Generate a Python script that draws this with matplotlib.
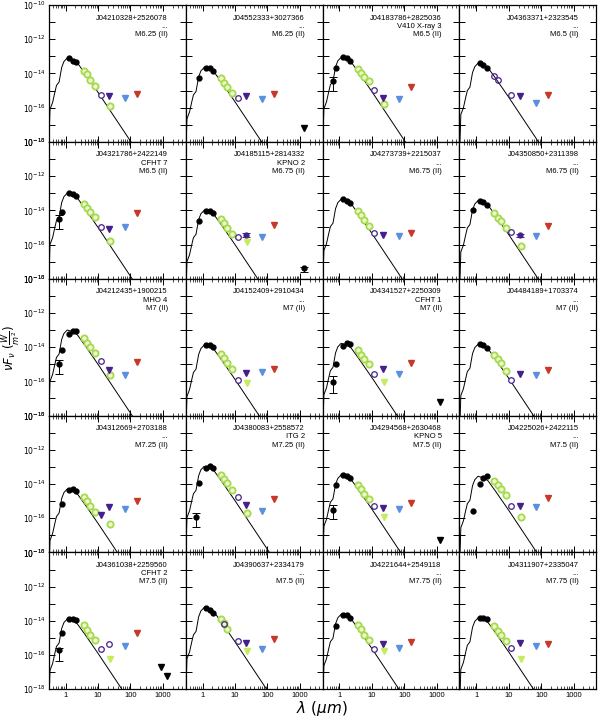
import matplotlib
matplotlib.use("Agg")
import matplotlib.pyplot as plt
import numpy as np
from matplotlib.ticker import FixedLocator, FuncFormatter, LogLocator, NullFormatter, NullLocator

plt.rcParams.update({"font.family": "Liberation Sans", "font.size": 6})

NAMES = ["J04210328+2526078", "J04552333+3027366", "J04183786+2825036", "J04363371+2323545",
         "J04321786+2422149", "J04185115+2814332", "J04273739+2215037", "J04350850+2311398",
         "J04212435+1900215", "J04152409+2910434", "J04341527+2250309", "J04484189+1703374",
         "J04312669+2703188", "J04380083+2558572", "J04294568+2630468", "J04225026+2422115",
         "J04361038+2259560", "J04390637+2334179", "J04221644+2549118", "J04311907+2335047"]
ALIASES = ["...", "...", "V410 X-ray 3", "...",
           "CFHT 7", "KPNO 2", "...", "...",
           "MHO 4", "...", "CFHT 1", "...",
           "...", "ITG 2", "KPNO 5", "...",
           "CFHT 2", "...", "...", "..."]
SPTYPES = ["M6.25 (II)", "M6.25 (II)", "M6.5 (II)", "M6.5 (II)",
           "M6.5 (II)", "M6.75 (II)", "M6.75 (II)", "M6.75 (II)",
           "M7 (II)", "M7 (II)", "M7 (II)", "M7 (II)",
           "M7.25 (II)", "M7.25 (II)", "M7.5 (II)", "M7.5 (II)",
           "M7.5 (II)", "M7.5 (II)", "M7.75 (II)", "M7.75 (II)"]

# band wavelengths (micron)
W_R, W_I = 0.62, 0.76
W_NIR = [1.25, 1.65, 2.17]
W_IRAC = [3.6, 4.5, 5.8, 8.0]
W_W3, W_W4, W_M24, W_P70, W_P160 = 12.0, 22.0, 24.0, 70.0, 160.0

# photosphere template: log10(lambda) and dex relative to the peak
TPL_LOGW = [-0.53, -0.50, -0.48, -0.40, -0.33, -0.28, -0.20, -0.12, -0.05, 0.05,
            0.15, 0.25, 0.36, 0.60, 1.00, 2.00, 3.00, 3.80]
TPL_DEX = [-6.0, -4.2, -3.0, -2.6, -2.0, -1.6, -1.4, -0.55, -0.2, 0.0,
           -0.05, -0.12, -0.27, -0.9, -2.0, -4.85, -7.7, -10.0]
PEAK = [-13.10, -13.65, -13.06, -13.40, -13.00, -14.00, -13.35, -13.43, -13.00, -13.88,
        -13.78, -13.83, -14.30, -12.97, -13.47, -13.55, -13.90, -13.22, -13.62, -13.83]

# log10(nu F_nu [W/m^2]) per panel
NIR = [[-13.12, -13.26, -13.35], [-13.67, -13.70, -13.84], [-13.06, -13.08, -13.26], [-13.41, -13.50, -13.68],
       [-13.01, -13.05, -13.17], [-14.03, -14.05, -14.14], [-13.36, -13.43, -13.60], [-13.44, -13.52, -13.68],
       [-13.24, -13.03, -13.07], [-13.88, -13.90, -14.00], [-13.92, -13.77, -13.80], [-13.84, -13.90, -14.04],
       [-14.34, -14.32, -14.42], [-13.07, -12.97, -13.07], [-13.47, -13.51, -13.66], [-13.99, -13.64, -13.54],
       [-13.92, -13.90, -13.96], [-13.24, -13.38, -13.54], [-13.63, -13.65, -13.81], [-13.83, -13.85, -13.92]]
IBAND = [None, -14.29, -13.67, None, -14.09, -14.63, None, -13.97, -14.18, None,
         -15.01, None, -15.16, -13.93, -14.05, -15.55, -14.74, None, -14.30, None]
# (value, lower, upper)
RBAND = [None, None, (-14.44, -15.01, -14.23), None, (-14.53, -15.10, -14.28), None, None, None,
         (-15.01, -15.57, -14.76), None, (-16.03, -16.66, -15.70), None, None, (-15.94, -16.53, -15.71),
         (-15.51, -16.07, -15.25), None, (-15.72, -16.36, -15.56), None, None, None]
IRAC = [[-13.84, -14.04, -14.39, -14.74], [-14.29, -14.54, -14.81, -15.13], [-13.74, -13.96, -14.19, -14.45], None,
        [-13.64, -13.85, -14.10, -14.40], [-14.53, -14.77, -15.06, -15.41], [-14.03, -14.28, -14.57, -14.92],
        [-14.16, -14.42, -14.65, -15.04], [-13.45, -13.75, -13.98, -14.37], [-14.41, -14.63, -14.90, -15.25],
        [-14.18, -14.43, -14.70, -15.01], [-14.43, -14.70, -14.95, -15.38], [-14.77, -15.02, -15.30, -15.65],
        [-13.47, -13.70, -13.94, -14.38], [-14.05, -14.29, -14.58, -14.90], [-13.85, -14.05, -14.29, -14.67],
        [-14.26, -14.52, -14.80, -15.13], [-13.92, -14.15, -14.50, None], [-14.22, -14.49, -14.80, -15.10],
        [-14.32, -14.59, -14.85, -15.19]]
WISE_SHORT = [[], [], [], [(3.4, -14.15), (4.6, -14.41)], [], [], [], [], [], [], [], [], [], [], [], [], [],
              [(4.6, -14.20)], [], []]
W3 = [-15.26, -15.46, -14.97, -15.26, -14.96, -15.55, -15.35, -15.29, -14.82, -15.93,
      -15.56, -15.93, None, -14.77, -15.30, -15.26, -15.62, -15.19, -15.62, -15.56]
W3_LIM = [None] * 12 + [-15.84] + [None] * 7
W4_LIM = [-15.30, -15.34, -15.42, -15.30, -15.10, None, -15.45, None, -15.35, -15.54,
          -15.25, -15.58, -15.32, -15.22, -15.40, -15.30, None, -15.27, -15.33, -15.27]
W4_ERR = [None] * 5 + [(-15.45, 0.12)] + [None] + [(-15.47, 0.10)] + [None] * 12
W4_OPEN = [None] * 16 + [-15.33] + [None] * 3
M24 = [-15.90, None, -15.81, None, -15.80, None, None, -16.11, -15.60, None,
       None, None, -16.33, -15.71, None, -15.91, None, None, None, None]
M24_LIM = [None, None, None, None, None, -15.88, None, None, None, -16.07,
           -16.03, None, None, None, -15.94, None, -16.26, -15.76, -15.78, -16.26]
P70_LIM = [-15.44, -15.52, -15.52, -15.71, -14.96, -15.55, -15.51, -15.49, -15.64, -15.48,
           -15.58, -15.60, -15.46, -15.59, -15.46, -15.36, -15.49, -15.62, -15.58, -15.49]
P160_LIM = [-15.22, -15.20, -14.81, -15.26, -14.18, -14.87, -15.31, -14.94, -14.86, -15.25,
            -14.92, -15.35, -14.97, -14.87, -15.11, -14.81, -14.74, -15.04, -15.23, -15.33]
MM_LIM = [[], [(1300, -17.21)], [], [], [], [], [], [], [], [], [(1300, -17.23)], [], [], [], [(1300, -17.26)], [],
          [(850, -16.70), (1300, -17.22)], [], [], []]
MM_DET = [None] * 5 + [(1300, -17.40, -17.60, -17.30)] + [None] * 14

GREEN_EDGE, GREEN_FACE = "#a6d94e", "#eaf8cc"
PURPLE, BLUE, RED = "#45208a", "#5b8fe0", "#c8382a"


def p(v):
    return 10.0 ** np.asarray(v, dtype=float)


def draw_panel(ax, i):
    ax.plot(p(TPL_LOGW), p(np.array(TPL_DEX) + PEAK[i]), color="k", lw=0.7, zorder=2)
    if RBAND[i] is not None:
        v, lo, hi = RBAND[i]
        ax.errorbar([W_R], p([v]), yerr=[[p(v) - p(lo)], [p(hi) - p(v)]], fmt="o", color="k",
                    ms=3.5, lw=0.7, capsize=3, capthick=0.7, zorder=4)
    if IBAND[i] is not None:
        ax.plot([W_I], p([IBAND[i]]), "o", color="k", ms=3.5, zorder=4)
    ax.plot(W_NIR, p(NIR[i]), "o", color="k", ms=3.5, zorder=4)
    if IRAC[i] is not None:
        pts = [(w, v) for w, v in zip(W_IRAC, IRAC[i]) if v is not None]
        ws, vs = zip(*pts)
        ax.plot(ws, p(vs), "o", mfc=GREEN_FACE, mec=GREEN_EDGE, mew=1.3, ms=4.5, zorder=3)
    for w, v in WISE_SHORT[i]:
        ax.plot([w], p([v]), "o", mfc="none", mec=PURPLE, mew=0.9, ms=4, zorder=5)
    if W3[i] is not None:
        ax.plot([W_W3], p([W3[i]]), "o", mfc="white", mec=PURPLE, mew=0.9, ms=4, zorder=5)
    if W3_LIM[i] is not None:
        ax.plot([W_W3], p([W3_LIM[i]]), "v", color=PURPLE, ms=4, zorder=5)
    if W4_LIM[i] is not None:
        ax.plot([W_W4], p([W4_LIM[i]]), "v", color=PURPLE, ms=4, zorder=5)
    if W4_ERR[i] is not None:
        v, e = W4_ERR[i]
        ax.errorbar([W_W4], p([v]), yerr=[[p(v) - p(v - e)], [p(v + e) - p(v)]], fmt="o", color=PURPLE,
                    ms=3.5, lw=0.7, capsize=3, capthick=0.7, zorder=5)
    if W4_OPEN[i] is not None:
        ax.plot([W_W4], p([W4_OPEN[i]]), "o", mfc="white", mec=PURPLE, mew=0.9, ms=4, zorder=5)
    if M24[i] is not None:
        ax.plot([W_M24], p([M24[i]]), "o", mfc=GREEN_FACE, mec=GREEN_EDGE, mew=1.3, ms=4.5, zorder=4)
    if M24_LIM[i] is not None:
        ax.plot([W_M24], p([M24_LIM[i]]), "v", color="#c4ec5c", ms=4.5, zorder=4)
    ax.plot([W_P70], p([P70_LIM[i]]), "v", color=BLUE, ms=4, zorder=4)
    ax.plot([W_P160], p([P160_LIM[i]]), "v", color=RED, ms=4, zorder=4)
    for w, v in MM_LIM[i]:
        ax.plot([w], p([v]), "v", color="k", ms=4, zorder=4)
    if MM_DET[i] is not None:
        w, v, lo, hi = MM_DET[i]
        ax.errorbar([w], p([v]), yerr=[[p(v) - p(lo)], [p(hi) - p(v)]], fmt="o", color="k",
                    ms=3.5, lw=0.7, capsize=3, capthick=0.7, zorder=4)
    ax.text(0.87, 0.93, f"{NAMES[i]}\n{ALIASES[i]}\n{SPTYPES[i]}", transform=ax.transAxes,
            ha="right", va="top", fontsize=5.5, linespacing=1.25)


def ylab(y, _):
    k = int(round(np.log10(y)))
    return rf"$10^{{{k}}}$" if k % 2 == 0 else ""


def xlab(x, _):
    return f"{x:g}"


def main():
    fig, axes = plt.subplots(5, 4, figsize=(6.0, 7.24), dpi=100, sharex=True, sharey=True)
    fig.subplots_adjust(left=0.081, right=0.994, bottom=0.048, top=0.993, wspace=0, hspace=0)
    for i, ax in enumerate(axes.flat):
        ax.set_xscale("log")
        ax.set_yscale("log")
        draw_panel(ax, i)
        for s in ax.spines.values():
            s.set_linewidth(0.9)
    ax0 = axes[0, 0]
    ax0.set_xlim(0.3, 5000)
    ax0.set_ylim(1e-18, 1e-10)
    ax0.yaxis.set_major_locator(FixedLocator([10.0 ** k for k in range(-18, -9)]))
    ax0.yaxis.set_major_formatter(FuncFormatter(ylab))
    ax0.yaxis.set_minor_locator(NullLocator())
    ax0.xaxis.set_major_locator(FixedLocator([1, 10, 100, 1000]))
    ax0.xaxis.set_major_formatter(FuncFormatter(xlab))
    ax0.xaxis.set_minor_locator(LogLocator(base=10, subs=np.arange(2, 10), numticks=20))
    ax0.xaxis.set_minor_formatter(NullFormatter())
    for ax in axes.flat:
        ax.tick_params(which="both", direction="in", top=True, right=True, labelsize=5.5, pad=2)
        ax.tick_params(which="major", length=4, width=0.7)
        ax.tick_params(which="minor", length=2, width=0.5)
    fig.text(0.537, 0.008, r"$\lambda\ (\mu m)$", ha="center", va="bottom", fontsize=11)
    fig.text(0.0, 0.52, r"$\nu F_\nu\ (\frac{W}{m^2})$", ha="left", va="center",
             rotation=90, fontsize=8.5)
    fig.savefig("out.png", dpi=100)


if __name__ == "__main__":
    main()
